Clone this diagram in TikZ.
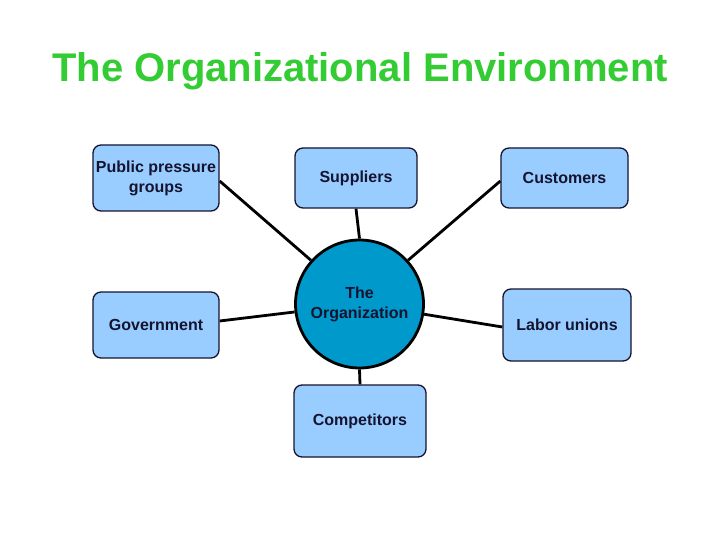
\documentclass[tikz,border=0pt]{standalone}
\usepackage{fontspec}
\setmainfont{Liberation Sans}
\usetikzlibrary{backgrounds}
\definecolor{titlegreen}{HTML}{33CC33}
\definecolor{boxfill}{HTML}{99CCFF}
\definecolor{orgfill}{HTML}{0099CC}
\definecolor{navy}{HTML}{141430}
\tikzset{
  envbox/.style={draw=navy, line width=1.3pt, fill=boxfill, rounded corners=8pt,
    align=center, text=navy, font=\fontsize{16}{20}\selectfont\bfseries, inner sep=2pt},
  orgcircle/.style={circle, draw=black, line width=2.8pt, fill=orgfill, minimum size=128pt,
    align=center, text=navy, font=\fontsize{16}{20}\selectfont\bfseries, inner sep=0pt},
  link/.style={draw=black, line width=2.8pt}
}
\begin{document}
\begin{tikzpicture}[x=1pt,y=-1pt]
\useasboundingbox (0,0) rectangle (720,540);
\node (title) at (360,71) {\fontsize{40}{44}\selectfont\bfseries\color{titlegreen}The Organizational Environment};
\node[envbox, minimum width=126pt, minimum height=66pt] (ppg) at (156,178) {Public pressure\\groups};
\node[envbox, minimum width=122pt, minimum height=60pt] (sup) at (356,178) {Suppliers};
\node[envbox, minimum width=127pt, minimum height=60pt] (cus) at (564.5,178) {Customers};
\node[envbox, minimum width=126pt, minimum height=66pt] (gov) at (156,325) {Government};
\node[envbox, minimum width=128pt, minimum height=72pt] (lab) at (567,325) {Labor unions};
\node[envbox, minimum width=132pt, minimum height=72pt] (com) at (360,421) {Competitors};
\node[orgcircle] (org) at (359.5,304) {The\\Organization};
\begin{scope}[on background layer]
  \fill[white] (0,0) rectangle (720,540);
  \draw[link] ([yshift=-3pt]ppg.east) -- (org.138);
  \draw[link] (sup.south) -- (org.north);
  \draw[link] ([yshift=-3pt]cus.west) -- (org.42);
  \draw[link] ([yshift=4pt]gov.east) -- (org.187);
  \draw[link] ([yshift=-2pt]lab.west) -- (org.-9);
  \draw[link] (com.north) -- (org.south);
\end{scope}
\end{tikzpicture}
\end{document}
